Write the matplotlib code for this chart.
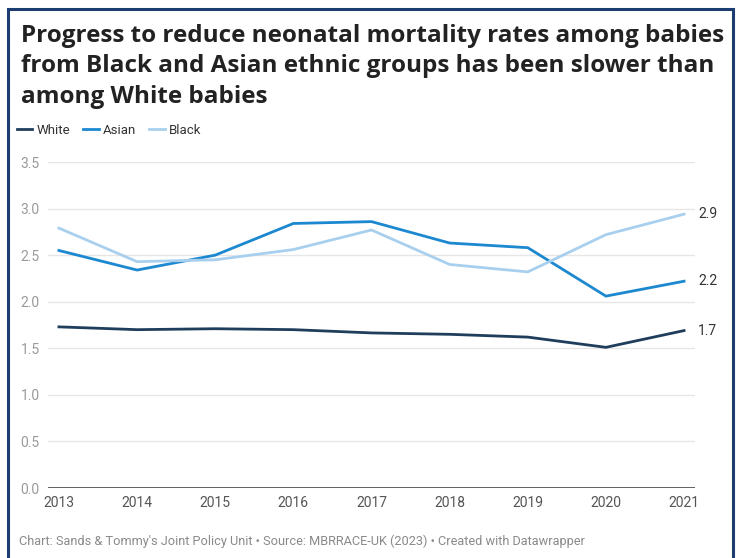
import matplotlib.pyplot as plt
from matplotlib.patches import Rectangle

years = [2013, 2014, 2015, 2016, 2017, 2018, 2019, 2020, 2021]
white = [1.73, 1.70, 1.71, 1.70, 1.665, 1.65, 1.62, 1.51, 1.69]
asian = [2.55, 2.34, 2.50, 2.84, 2.86, 2.63, 2.58, 2.06, 2.22]
black = [2.79, 2.43, 2.45, 2.56, 2.77, 2.40, 2.32, 2.72, 2.94]
end_labels = ["1.7", "2.2", "2.9"]
yticks = [0.0, 0.5, 1.0, 1.5, 2.0, 2.5, 3.0, 3.5]

c_white = "#1f3e5c"
c_asian = "#1c88d0"
c_black = "#a8d0ee"

plt.rcParams["font.family"] = ["Roboto", "DejaVu Sans"]

fig = plt.figure(figsize=(7.41, 5.58), dpi=100)
W, H = 741, 558

# outer frame
fig.patches.append(Rectangle((8 / W, -0.01), 725 / W, 1.01 - 9 / H, transform=fig.transFigure,
                             fill=False, edgecolor="#1b3d72", linewidth=2.2))

fig.text(21 / W, 1 - 24 / H, "Progress to reduce neonatal mortality rates among babies\n"
         "from Black and Asian ethnic groups has been slower than\namong White babies",
         fontsize=17.5, fontweight="bold", color="#222222", va="top", ha="left",
         linespacing=1.36, family=["Open Sans", "DejaVu Sans"])

ax = fig.add_axes([48 / W, 1 - 488 / H, (695 - 48) / W, (488 - 162) / H])
ax.plot(years, white, color=c_white, lw=2, label="White", solid_joinstyle="miter")
ax.plot(years, asian, color=c_asian, lw=2, label="Asian", solid_joinstyle="miter")
ax.plot(years, black, color=c_black, lw=2, label="Black", solid_joinstyle="miter")

for vals, lab in zip([white, asian, black], end_labels):
    ax.annotate(lab, (years[-1], vals[-1]), xytext=(10, 0), textcoords="offset points",
                va="center", ha="left", fontsize=10, color="#333333")

ax.set_ylim(0, 3.5)
ax.set_xlim(2012.86, 2021.14)
ax.set_yticks(yticks)
ax.set_yticklabels([f"{v:.1f}" for v in yticks])
ax.set_xticks(years)
ax.grid(axis="y", color="#e6e6e6", lw=1)
ax.axhline(0, color="#333333", lw=1.8, zorder=3)
for s in ax.spines.values():
    s.set_visible(False)
ax.tick_params(axis="both", length=0, labelsize=10, colors="#9a9a9a")
ax.tick_params(axis="y", pad=6)
ax.tick_params(axis="x", pad=6, labelcolor="#555555")
ax.set_axisbelow(True)

leg = fig.legend(loc="upper left", bbox_to_anchor=(14 / W, 1 - 121 / H), ncol=3, frameon=False,
                 fontsize=9.5, handlelength=1.2, handletextpad=0.3, columnspacing=1.0,
                 labelcolor="#333333", borderaxespad=0, borderpad=0.2)
for line in leg.get_lines():
    line.set_linewidth(2)

fig.text(19 / W, 1 - 541 / H, "Chart: Sands & Tommy's Joint Policy Unit \u2022 Source: MBRRACE-UK (2023) \u2022 "
         "Created with Datawrapper", fontsize=9.2, color="#8a8a8a", va="center", ha="left")

fig.savefig("out.png", dpi=100)
